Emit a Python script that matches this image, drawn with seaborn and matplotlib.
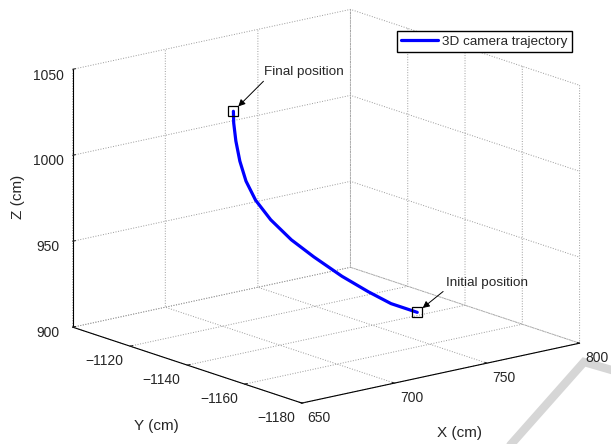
import matplotlib
matplotlib.use("Agg")
import matplotlib.pyplot as plt
import seaborn as sns
from matplotlib.lines import Line2D
from mpl_toolkits.mplot3d import proj3d

# trajectory (cm), from initial to final position
traj_x = [768, 756, 746, 734, 721, 711, 702, 696, 693, 692, 692, 693, 695]
traj_y = [-1144.0, -1142.6, -1141.2, -1139.7, -1138.3, -1136.9, -1135.5,
          -1134.1, -1132.7, -1131.2, -1129.8, -1128.4, -1127.0]
traj_z = [905.5, 912.6, 921, 932, 945.5, 957, 970, 982, 993, 1004, 1015, 1024.5, 1030]

x_ticks = [650, 700, 750, 800]
y_ticks = [-1180, -1160, -1140, -1120, -1100]
y_tick_labels = ["\u22121180", "\u22121160", "\u22121140", "\u22121120", ""]
z_ticks = [900, 950, 1000, 1050]

sns.set_style("white")
plt.rcParams["font.family"] = ["Liberation Sans", "DejaVu Sans"]
plt.rcParams.update({
    "grid.color": "#9a9a9a",
    "grid.linestyle": ":",
    "grid.linewidth": 0.7,
    "axes.unicode_minus": True,
})

fig = plt.figure(figsize=(6.11, 4.44), dpi=100)
fig.patch.set_facecolor("white")

# faint watermark stroke in the lower right corner
fig.add_artist(Line2D([506 / 611, 584 / 611, 615 / 611],
                      [1 - 450 / 444, 1 - 362 / 444, 1 - 371 / 444],
                      transform=fig.transFigure, color="#d6d6d6", lw=6,
                      solid_joinstyle="miter", zorder=-5))

ax = fig.add_axes([0.024, 0.022, 1.0, 1.0], projection="3d")
ax.patch.set_visible(False)
ax.set_proj_type("ortho")
ax.set_box_aspect((4, 4.09, 3), zoom=1.26)
ax.view_init(elev=15.5, azim=-128.9)

ax.plot(traj_x, traj_y, traj_z, color="blue", lw=2.3, label="3D camera trajectory")
for i in (0, -1):
    ax.plot([traj_x[i]], [traj_y[i]], [traj_z[i]], "s", mfc="none", mec="black",
            mew=0.9, ms=7)

ax.set_xlim(650, 800)
ax.set_ylim(-1180, -1100)
ax.set_zlim(900, 1050)
ax.set_xticks(x_ticks)
ax.set_yticks(y_ticks)
ax.set_yticklabels(y_tick_labels)
ax.set_zticks(z_ticks)
ax.tick_params(labelsize=10, pad=0)
ax.tick_params(axis="x", pad=-4)
ax.tick_params(axis="y", pad=-4)
for lbl in ax.get_xticklabels():
    lbl.set_horizontalalignment("left")
for lbl in ax.get_yticklabels():
    lbl.set_horizontalalignment("right")

for axis in (ax.xaxis, ax.yaxis, ax.zaxis):
    axis.set_pane_color((1, 1, 1, 0))
    axis.pane.set_edgecolor("none")
    axis.line.set_color("black")
    axis.line.set_linewidth(0.8)
    axis._axinfo["grid"].update(color="#9a9a9a", linestyle=":", linewidth=0.7)
    axis._axinfo["tick"].update(inward_factor=0.0, outward_factor=0.12)
    axis.set_rotate_label(False)

ax.xaxis._axinfo["label"]["ha"] = "right"
ax.yaxis._axinfo["label"]["ha"] = "left"
ax.set_xlabel("X (cm)", fontsize=11, rotation=0, labelpad=9)
ax.set_ylabel("Y (cm)", fontsize=11, rotation=0, labelpad=11)
ax.set_zlabel("Z (cm)", fontsize=11, rotation=90, labelpad=-3)

fig.canvas.draw()
# annotations anchored on the projected start / end markers
for i, txt, off, rel in ((-1, "Final position", (22, 24), (0.05, 0.1)),
                         (0, "Initial position", (21, 17), (0.02, 0.1))):
    px, py, _ = proj3d.proj_transform(traj_x[i], traj_y[i], traj_z[i], ax.get_proj())
    ax.annotate(txt, xy=(px, py), xytext=off, textcoords="offset points",
                fontsize=9.7, ha="left", va="bottom",
                arrowprops=dict(arrowstyle="-|>", color="black", lw=0.7, relpos=rel,
                                shrinkA=0, shrinkB=5, mutation_scale=10))

ax.legend(loc="upper right", bbox_to_anchor=(0.936, 0.931), bbox_transform=fig.transFigure,
          fontsize=9.7, frameon=True, fancybox=False, edgecolor="black",
          framealpha=1, borderpad=0.35, handlelength=2.7, handletextpad=0.3,
          borderaxespad=0)

fig.savefig("out.png", dpi=100)
